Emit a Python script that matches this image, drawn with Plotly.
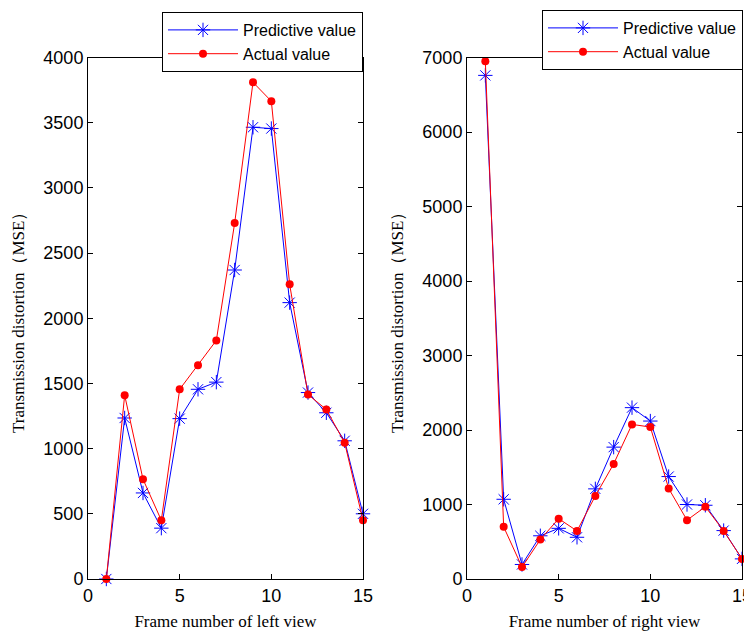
import plotly.graph_objects as go

frames = list(range(1, 16))

left_predictive = [0, 1235, 660, 390, 1230, 1455, 1510, 2370, 3465, 3455, 2120, 1430, 1275, 1060, 500]
left_actual = [0, 1410, 765, 450, 1455, 1640, 1830, 2730, 3810, 3665, 2260, 1415, 1300, 1045, 450]

right_predictive = [6760, 1070, 195, 580, 680, 560, 1210, 1770, 2300, 2120, 1375, 1000, 990, 650, 270]
right_actual = [6950, 700, 160, 530, 810, 645, 1115, 1545, 2075, 2040, 1215, 790, 970, 645, 270]

series_names = ["Predictive value", "Actual value"]
x_titles = ["Frame number of left view", "Frame number of right view"]
y_title = "Transmission distortion（MSE）"
x_ticks = [0, 5, 10, 15]
left_y_ticks = [0, 500, 1000, 1500, 2000, 2500, 3000, 3500, 4000]
right_y_ticks = [0, 1000, 2000, 3000, 4000, 5000, 6000, 7000]

BLUE = "#0000FF"
RED = "#FF0000"
SANS = "Arial, Liberation Sans, sans-serif"
SERIF = "Times New Roman, Liberation Serif, serif"

fig = go.Figure()

def add_pair(pred, act, xa, ya, legend):
    fig.add_trace(go.Scatter(
        x=frames, y=pred, mode="lines+markers", name=series_names[0],
        xaxis=xa, yaxis=ya, legend=legend, cliponaxis=False,
        line=dict(color=BLUE, width=1),
        marker=dict(symbol="asterisk-open", size=12, color=BLUE,
                    line=dict(color=BLUE, width=1)),
    ))
    fig.add_trace(go.Scatter(
        x=frames, y=act, mode="lines+markers", name=series_names[1],
        xaxis=xa, yaxis=ya, legend=legend, cliponaxis=False,
        line=dict(color=RED, width=1),
        marker=dict(symbol="circle", size=8, color=RED),
    ))

add_pair(left_predictive, left_actual, "x", "y", "legend")
add_pair(right_predictive, right_actual, "x2", "y2", "legend2")

# page body has an 8px margin; the figure occupies 744x624 starting at (8, 8)
OFF = 8
W, H = 752 - OFF, 632 - OFF

def px(x):
    return (x - OFF) / W

def py(y):
    return 1 - (y - OFF) / H

ydom = [py(579), py(57.5)]

axis_common = dict(
    showline=True, linecolor="black", linewidth=1, mirror="ticks",
    ticks="inside", ticklen=5, tickcolor="black", tickwidth=1,
    showgrid=False, zeroline=False, ticklabeloverflow="allow",
    tickfont=dict(family=SANS, size=18, color="black"),
)
title_font = dict(family=SERIF, size=17, color="black")
legend_common = dict(
    bgcolor="white", bordercolor="black", borderwidth=1,
    font=dict(family=SANS, size=16, color="black"), itemwidth=70,
    xanchor="right", yanchor="top",
)

fig.update_layout(
    width=W, height=H,
    margin=dict(l=0, r=0, t=0, b=0),
    paper_bgcolor="white", plot_bgcolor="white",
    xaxis=dict(domain=[px(88), px(363)], range=[0, 15], tickvals=x_ticks,
               anchor="y", automargin=False,
               title=dict(text=x_titles[0], font=title_font, standoff=10),
               **axis_common),
    yaxis=dict(domain=ydom, range=[0, 4000], tickvals=left_y_ticks,
               anchor="x", automargin=False,
               title=dict(text=y_title, font=title_font, standoff=14),
               **axis_common),
    xaxis2=dict(domain=[px(467), px(742)], range=[0, 15], tickvals=x_ticks,
                anchor="y2", automargin=False,
                title=dict(text=x_titles[1], font=title_font, standoff=10),
                **axis_common),
    yaxis2=dict(domain=ydom, range=[0, 7000], tickvals=right_y_ticks,
                anchor="x2", automargin=False,
                title=dict(text=y_title, font=title_font, standoff=14),
                **axis_common),
    legend=dict(x=px(363), y=py(12), **legend_common),
    legend2=dict(x=px(743), y=py(10), **legend_common),
)

fig.write_html("out.html")
